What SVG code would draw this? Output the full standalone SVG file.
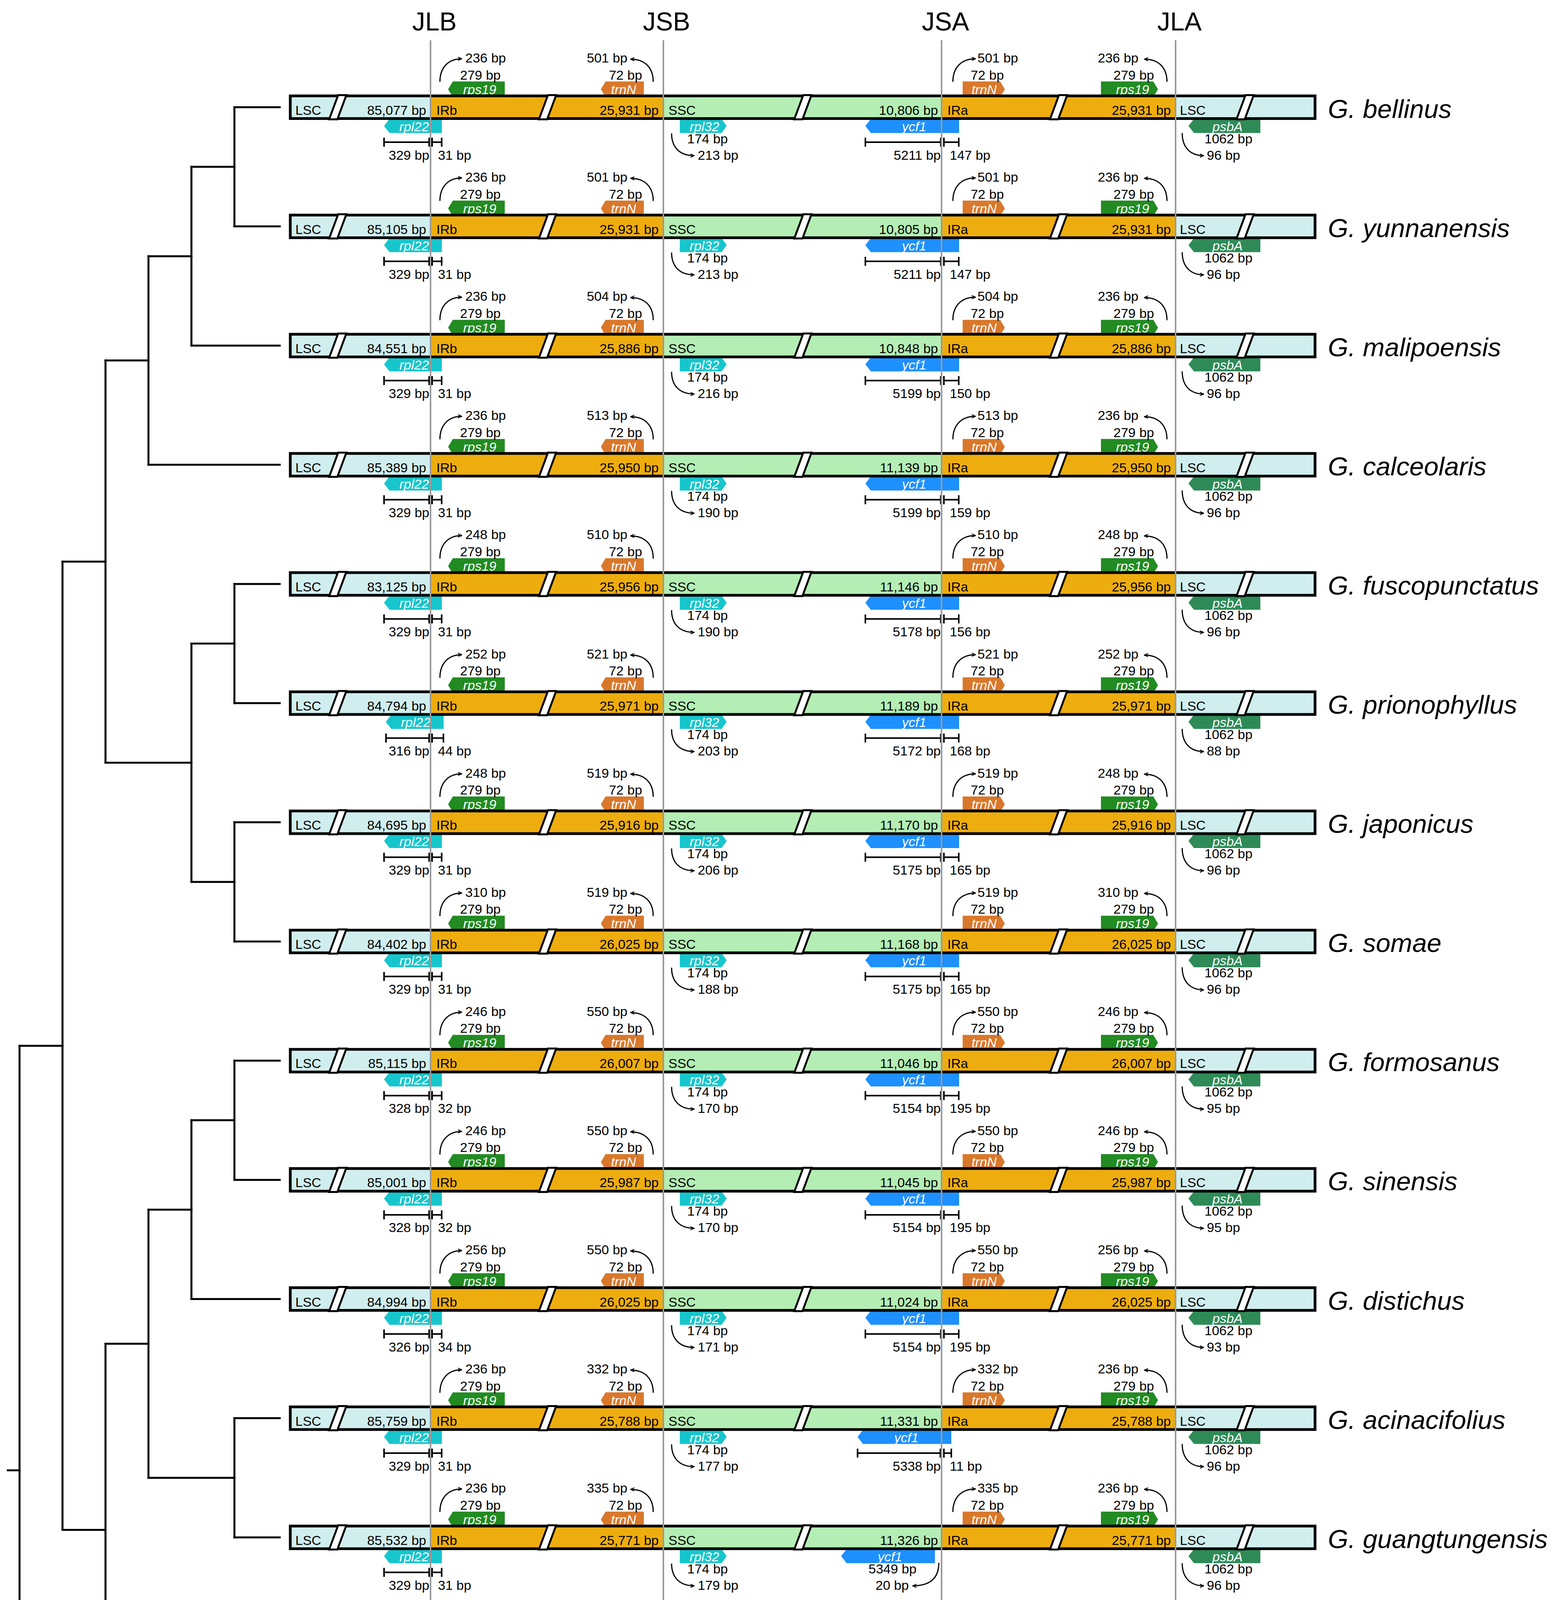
<svg xmlns="http://www.w3.org/2000/svg" xmlns:xlink="http://www.w3.org/1999/xlink" width="3993" height="5022" viewBox="0 0 3993 5022">
<style>
.t{font-family:"Liberation Sans",Arial,sans-serif;font-size:34px;fill:#000}
.e{text-anchor:end}
.m{text-anchor:middle}
.gl{font-family:"Liberation Sans",Arial,sans-serif;font-size:34px;font-style:italic;fill:#fff;text-anchor:middle}
.sp{font-family:"Liberation Sans",Arial,sans-serif;font-size:67px;font-style:italic;fill:#000}
.hd{font-family:"Liberation Sans",Arial,sans-serif;font-size:66px;fill:#000;text-anchor:middle}
.lsc{fill:#D1EEEE}.ir{fill:#EEAD0E}.ssc{fill:#B4EEB4}
.rps{fill:#228B22}.trn{fill:#D9782B}.rpl{fill:#17C6CC}.ycf{fill:#1E90FF}.psb{fill:#2E8B57}
.sl{fill:#fff;stroke:#000;stroke-width:5}
.sb{fill:none;stroke:#000;stroke-width:4}
.jl{stroke:#999;stroke-width:4}
.arr{fill:none;stroke:#000;stroke-width:3;marker-end:url(#ah)}
</style>
<defs>
<marker id="ah" viewBox="0 0 10 10" refX="9" refY="5" markerWidth="12" markerHeight="12" markerUnits="userSpaceOnUse" orient="auto"><path d="M1,1.5 L9,5 L1,8.5" fill="none" stroke="#000" stroke-width="1.8"/></marker>
<g id="gtop">
<polygon class="rps" points="1147,-46 1159,-66 1292,-66 1292,-26 1159,-26"/>
<polygon class="trn" points="1538,-46 1550,-66 1648,-66 1648,-26 1550,-26"/>
<polygon class="trn" points="2464,-66 2560,-66 2572,-46 2560,-26 2464,-26"/>
<polygon class="rps" points="2818,-66 2952,-66 2964,-46 2952,-26 2818,-26"/>
<polygon class="rpl" points="1740,30 1847,30 1860,48 1847,66 1740,66"/>
<polygon class="psb" points="3042,48 3056,30 3226,30 3226,66 3056,66"/>
</g>
<polygon id="rpl22g" class="rpl" points="983,48 997,30 1131,30 1131,66 997,66"/>
<polygon id="ycf1g" class="ycf" points="2215,48 2229,30 2455,30 2455,66 2229,66"/>
<g id="bar">
<rect x="743" y="-29" width="359" height="58" class="lsc"/>
<rect x="1102" y="-29" width="596" height="58" class="ir"/>
<rect x="1698" y="-29" width="712" height="58" class="ssc"/>
<rect x="2410" y="-29" width="599" height="58" class="ir"/>
<rect x="3009" y="-29" width="357" height="58" class="lsc"/>
<rect x="743" y="-29" width="2623" height="58" fill="none" stroke="#000" stroke-width="7"/>
<polygon class="sl" points="842.5,31 863.5,31 886.5,-31 865.5,-31"/>
<polygon class="sl" points="1379.5,31 1400.5,31 1423.5,-31 1402.5,-31"/>
<polygon class="sl" points="2033,31 2054,31 2077,-31 2056,-31"/>
<polygon class="sl" points="2687.5,31 2708.5,31 2731.5,-31 2710.5,-31"/>
<polygon class="sl" points="3165,31 3186,31 3209,-31 3188,-31"/>
</g>
<g id="arrs">
<path class="arr" d="M1126,-65 C1126,-100 1146,-124 1182,-124"/>
<path class="arr" d="M1672,-65 C1672,-100 1652,-123 1614,-123"/>
<path class="arr" d="M2439,-65 C2439,-100 2459,-124 2497,-124"/>
<path class="arr" d="M2987,-65 C2987,-100 2967,-123 2929,-123"/>
<path class="arr" d="M1719,67 C1719,100 1737,124 1777,124"/>
<path class="arr" d="M3026,66 C3026,100 3044,124 3081,124"/>
</g>
<path id="b22" class="sb" d="M983,89.5H1098.5M983,78V101M1098.5,78V101M1106,89.5H1130.5M1106,78V101M1130.5,78V101"/>
<path id="bycf" class="sb" d="M2215,89.5H2408M2215,78V101M2408,78V101M2416,89.5H2454M2416,78V101M2454,78V101"/>
</defs>
<rect width="3993" height="5022" fill="#fff"/>

<g id="connectors" fill="none" stroke="#000" stroke-width="5" stroke-linecap="square">
<path d="M600,274.5H716M600,579.6H716M490,884.7H716M380,1189.8H716M600,1494.9H716M600,1800H716M600,2105.1H716M600,2410.2H716M600,2715.3H716M600,3020.4H716M490,3325.5H716M600,3630.6H716M600,3935.7H716M600,4240.8H716M600,4545.9H716M50,4851H716"/>
<path d="M600,274.5V579.6M490,427.05V884.7M380,655.9V1189.8M600,1494.9V1800M600,2105.1V2410.2M490,1647.45V2257.65M270,922.85V1952.55M600,2715.3V3020.4M490,2867.85V3325.5M600,3630.6V3935.7M380,3096.7V3783.15M600,4240.8V4545.9M270,3439.9V4393.35M160,1437.7V3916.6M50,2677.2V4851"/>
<path d="M490,427.05H600M380,655.9H490M270,922.85H380M490,1647.45H600M490,2257.65H600M270,1952.55H490M160,1437.7H270M490,2867.85H600M380,3096.7H490M380,3783.15H600M270,3439.9H380M270,4393.35H600M160,3916.6H270M50,2677.2H160M20,3764.1H50"/>
</g>

<g id="row-G-bellinus" transform="translate(0,274.5)">
<use href="#gtop"/><use href="#rpl22g"/><use href="#ycf1g"/>
<text class="gl" x="1228" y="-34">rps19</text><text class="gl" x="1596" y="-34">trnN</text><text class="gl" x="2519" y="-34">trnN</text><text class="gl" x="2899" y="-34">rps19</text>
<text class="gl" x="1060" y="61">rpl22</text><text class="gl" x="1803" y="61">rpl32</text><text class="gl" x="2340" y="61">ycf1</text><text class="gl" x="3142" y="61">psbA</text>
<use href="#bar"/>
<text class="t" x="756" y="19">LSC</text><text class="t e" x="1091" y="19">85,077 bp</text><text class="t" x="1117" y="19">IRb</text><text class="t e" x="1686" y="19">25,931 bp</text><text class="t" x="1711" y="19">SSC</text><text class="t e" x="2401" y="19">10,806 bp</text><text class="t" x="2425" y="19">IRa</text><text class="t e" x="2997" y="19">25,931 bp</text><text class="t" x="3020" y="19">LSC</text>
<text class="sp" x="3399" y="27">G. bellinus</text>
<text class="t" x="1191" y="-114.5">236 bp</text><text class="t m" x="1229.5" y="-71">279 bp</text><text class="t e" x="1606" y="-114.5">501 bp</text><text class="t m" x="1601" y="-71">72 bp</text><text class="t" x="2502" y="-114.5">501 bp</text><text class="t m" x="2527" y="-71">72 bp</text><text class="t e" x="2914" y="-114.5">236 bp</text><text class="t m" x="2902" y="-71">279 bp</text>
<use href="#arrs"/><use href="#b22"/><use href="#bycf"/>
<text class="t e" x="1099" y="134">329 bp</text><text class="t" x="1121" y="134">31 bp</text><text class="t" x="1759" y="92">174 bp</text><text class="t" x="1786" y="134">213 bp</text><text class="t e" x="2408" y="134">5211 bp</text><text class="t" x="2431" y="134">147 bp</text><text class="t" x="3083" y="92">1062 bp</text><text class="t" x="3089" y="134">96 bp</text>
</g>

<g id="row-G-yunnanensis" transform="translate(0,579.6)">
<use href="#gtop"/><use href="#rpl22g"/><use href="#ycf1g"/>
<text class="gl" x="1228" y="-34">rps19</text><text class="gl" x="1596" y="-34">trnN</text><text class="gl" x="2519" y="-34">trnN</text><text class="gl" x="2899" y="-34">rps19</text>
<text class="gl" x="1060" y="61">rpl22</text><text class="gl" x="1803" y="61">rpl32</text><text class="gl" x="2340" y="61">ycf1</text><text class="gl" x="3142" y="61">psbA</text>
<use href="#bar"/>
<text class="t" x="756" y="19">LSC</text><text class="t e" x="1091" y="19">85,105 bp</text><text class="t" x="1117" y="19">IRb</text><text class="t e" x="1686" y="19">25,931 bp</text><text class="t" x="1711" y="19">SSC</text><text class="t e" x="2401" y="19">10,805 bp</text><text class="t" x="2425" y="19">IRa</text><text class="t e" x="2997" y="19">25,931 bp</text><text class="t" x="3020" y="19">LSC</text>
<text class="sp" x="3399" y="27">G. yunnanensis</text>
<text class="t" x="1191" y="-114.5">236 bp</text><text class="t m" x="1229.5" y="-71">279 bp</text><text class="t e" x="1606" y="-114.5">501 bp</text><text class="t m" x="1601" y="-71">72 bp</text><text class="t" x="2502" y="-114.5">501 bp</text><text class="t m" x="2527" y="-71">72 bp</text><text class="t e" x="2914" y="-114.5">236 bp</text><text class="t m" x="2902" y="-71">279 bp</text>
<use href="#arrs"/><use href="#b22"/><use href="#bycf"/>
<text class="t e" x="1099" y="134">329 bp</text><text class="t" x="1121" y="134">31 bp</text><text class="t" x="1759" y="92">174 bp</text><text class="t" x="1786" y="134">213 bp</text><text class="t e" x="2408" y="134">5211 bp</text><text class="t" x="2431" y="134">147 bp</text><text class="t" x="3083" y="92">1062 bp</text><text class="t" x="3089" y="134">96 bp</text>
</g>

<g id="row-G-malipoensis" transform="translate(0,884.7)">
<use href="#gtop"/><use href="#rpl22g"/><use href="#ycf1g"/>
<text class="gl" x="1228" y="-34">rps19</text><text class="gl" x="1596" y="-34">trnN</text><text class="gl" x="2519" y="-34">trnN</text><text class="gl" x="2899" y="-34">rps19</text>
<text class="gl" x="1060" y="61">rpl22</text><text class="gl" x="1803" y="61">rpl32</text><text class="gl" x="2340" y="61">ycf1</text><text class="gl" x="3142" y="61">psbA</text>
<use href="#bar"/>
<text class="t" x="756" y="19">LSC</text><text class="t e" x="1091" y="19">84,551 bp</text><text class="t" x="1117" y="19">IRb</text><text class="t e" x="1686" y="19">25,886 bp</text><text class="t" x="1711" y="19">SSC</text><text class="t e" x="2401" y="19">10,848 bp</text><text class="t" x="2425" y="19">IRa</text><text class="t e" x="2997" y="19">25,886 bp</text><text class="t" x="3020" y="19">LSC</text>
<text class="sp" x="3399" y="27">G. malipoensis</text>
<text class="t" x="1191" y="-114.5">236 bp</text><text class="t m" x="1229.5" y="-71">279 bp</text><text class="t e" x="1606" y="-114.5">504 bp</text><text class="t m" x="1601" y="-71">72 bp</text><text class="t" x="2502" y="-114.5">504 bp</text><text class="t m" x="2527" y="-71">72 bp</text><text class="t e" x="2914" y="-114.5">236 bp</text><text class="t m" x="2902" y="-71">279 bp</text>
<use href="#arrs"/><use href="#b22"/><use href="#bycf"/>
<text class="t e" x="1099" y="134">329 bp</text><text class="t" x="1121" y="134">31 bp</text><text class="t" x="1759" y="92">174 bp</text><text class="t" x="1786" y="134">216 bp</text><text class="t e" x="2408" y="134">5199 bp</text><text class="t" x="2431" y="134">150 bp</text><text class="t" x="3083" y="92">1062 bp</text><text class="t" x="3089" y="134">96 bp</text>
</g>

<g id="row-G-calceolaris" transform="translate(0,1189.8)">
<use href="#gtop"/><use href="#rpl22g"/><use href="#ycf1g"/>
<text class="gl" x="1228" y="-34">rps19</text><text class="gl" x="1596" y="-34">trnN</text><text class="gl" x="2519" y="-34">trnN</text><text class="gl" x="2899" y="-34">rps19</text>
<text class="gl" x="1060" y="61">rpl22</text><text class="gl" x="1803" y="61">rpl32</text><text class="gl" x="2340" y="61">ycf1</text><text class="gl" x="3142" y="61">psbA</text>
<use href="#bar"/>
<text class="t" x="756" y="19">LSC</text><text class="t e" x="1091" y="19">85,389 bp</text><text class="t" x="1117" y="19">IRb</text><text class="t e" x="1686" y="19">25,950 bp</text><text class="t" x="1711" y="19">SSC</text><text class="t e" x="2401" y="19">11,139 bp</text><text class="t" x="2425" y="19">IRa</text><text class="t e" x="2997" y="19">25,950 bp</text><text class="t" x="3020" y="19">LSC</text>
<text class="sp" x="3399" y="27">G. calceolaris</text>
<text class="t" x="1191" y="-114.5">236 bp</text><text class="t m" x="1229.5" y="-71">279 bp</text><text class="t e" x="1606" y="-114.5">513 bp</text><text class="t m" x="1601" y="-71">72 bp</text><text class="t" x="2502" y="-114.5">513 bp</text><text class="t m" x="2527" y="-71">72 bp</text><text class="t e" x="2914" y="-114.5">236 bp</text><text class="t m" x="2902" y="-71">279 bp</text>
<use href="#arrs"/><use href="#b22"/><use href="#bycf"/>
<text class="t e" x="1099" y="134">329 bp</text><text class="t" x="1121" y="134">31 bp</text><text class="t" x="1759" y="92">174 bp</text><text class="t" x="1786" y="134">190 bp</text><text class="t e" x="2408" y="134">5199 bp</text><text class="t" x="2431" y="134">159 bp</text><text class="t" x="3083" y="92">1062 bp</text><text class="t" x="3089" y="134">96 bp</text>
</g>

<g id="row-G-fuscopunctatus" transform="translate(0,1494.9)">
<use href="#gtop"/><use href="#rpl22g"/><use href="#ycf1g"/>
<text class="gl" x="1228" y="-34">rps19</text><text class="gl" x="1596" y="-34">trnN</text><text class="gl" x="2519" y="-34">trnN</text><text class="gl" x="2899" y="-34">rps19</text>
<text class="gl" x="1060" y="61">rpl22</text><text class="gl" x="1803" y="61">rpl32</text><text class="gl" x="2340" y="61">ycf1</text><text class="gl" x="3142" y="61">psbA</text>
<use href="#bar"/>
<text class="t" x="756" y="19">LSC</text><text class="t e" x="1091" y="19">83,125 bp</text><text class="t" x="1117" y="19">IRb</text><text class="t e" x="1686" y="19">25,956 bp</text><text class="t" x="1711" y="19">SSC</text><text class="t e" x="2401" y="19">11,146 bp</text><text class="t" x="2425" y="19">IRa</text><text class="t e" x="2997" y="19">25,956 bp</text><text class="t" x="3020" y="19">LSC</text>
<text class="sp" x="3399" y="27">G. fuscopunctatus</text>
<text class="t" x="1191" y="-114.5">248 bp</text><text class="t m" x="1229.5" y="-71">279 bp</text><text class="t e" x="1606" y="-114.5">510 bp</text><text class="t m" x="1601" y="-71">72 bp</text><text class="t" x="2502" y="-114.5">510 bp</text><text class="t m" x="2527" y="-71">72 bp</text><text class="t e" x="2914" y="-114.5">248 bp</text><text class="t m" x="2902" y="-71">279 bp</text>
<use href="#arrs"/><use href="#b22"/><use href="#bycf"/>
<text class="t e" x="1099" y="134">329 bp</text><text class="t" x="1121" y="134">31 bp</text><text class="t" x="1759" y="92">174 bp</text><text class="t" x="1786" y="134">190 bp</text><text class="t e" x="2408" y="134">5178 bp</text><text class="t" x="2431" y="134">156 bp</text><text class="t" x="3083" y="92">1062 bp</text><text class="t" x="3089" y="134">96 bp</text>
</g>

<g id="row-G-prionophyllus" transform="translate(0,1800)">
<use href="#gtop"/><use href="#rpl22g" x="4.5"/><use href="#ycf1g"/>
<text class="gl" x="1228" y="-34">rps19</text><text class="gl" x="1596" y="-34">trnN</text><text class="gl" x="2519" y="-34">trnN</text><text class="gl" x="2899" y="-34">rps19</text>
<text class="gl" x="1064" y="61">rpl22</text><text class="gl" x="1803" y="61">rpl32</text><text class="gl" x="2340" y="61">ycf1</text><text class="gl" x="3142" y="61">psbA</text>
<use href="#bar"/>
<text class="t" x="756" y="19">LSC</text><text class="t e" x="1091" y="19">84,794 bp</text><text class="t" x="1117" y="19">IRb</text><text class="t e" x="1686" y="19">25,971 bp</text><text class="t" x="1711" y="19">SSC</text><text class="t e" x="2401" y="19">11,189 bp</text><text class="t" x="2425" y="19">IRa</text><text class="t e" x="2997" y="19">25,971 bp</text><text class="t" x="3020" y="19">LSC</text>
<text class="sp" x="3399" y="27">G. prionophyllus</text>
<text class="t" x="1191" y="-114.5">252 bp</text><text class="t m" x="1229.5" y="-71">279 bp</text><text class="t e" x="1606" y="-114.5">521 bp</text><text class="t m" x="1601" y="-71">72 bp</text><text class="t" x="2502" y="-114.5">521 bp</text><text class="t m" x="2527" y="-71">72 bp</text><text class="t e" x="2914" y="-114.5">252 bp</text><text class="t m" x="2902" y="-71">279 bp</text>
<use href="#arrs"/><use href="#bycf"/>
<path class="sb" d="M988,89.5H1098.5M988,78V101M1098.5,78V101M1106,89.5H1135M1106,78V101M1135,78V101"/>
<text class="t e" x="1099" y="134">316 bp</text><text class="t" x="1121" y="134">44 bp</text><text class="t" x="1759" y="92">174 bp</text><text class="t" x="1786" y="134">203 bp</text><text class="t e" x="2408" y="134">5172 bp</text><text class="t" x="2431" y="134">168 bp</text><text class="t" x="3083" y="92">1062 bp</text><text class="t" x="3089" y="134">88 bp</text>
</g>

<g id="row-G-japonicus" transform="translate(0,2105.1)">
<use href="#gtop"/><use href="#rpl22g"/><use href="#ycf1g"/>
<text class="gl" x="1228" y="-34">rps19</text><text class="gl" x="1596" y="-34">trnN</text><text class="gl" x="2519" y="-34">trnN</text><text class="gl" x="2899" y="-34">rps19</text>
<text class="gl" x="1060" y="61">rpl22</text><text class="gl" x="1803" y="61">rpl32</text><text class="gl" x="2340" y="61">ycf1</text><text class="gl" x="3142" y="61">psbA</text>
<use href="#bar"/>
<text class="t" x="756" y="19">LSC</text><text class="t e" x="1091" y="19">84,695 bp</text><text class="t" x="1117" y="19">IRb</text><text class="t e" x="1686" y="19">25,916 bp</text><text class="t" x="1711" y="19">SSC</text><text class="t e" x="2401" y="19">11,170 bp</text><text class="t" x="2425" y="19">IRa</text><text class="t e" x="2997" y="19">25,916 bp</text><text class="t" x="3020" y="19">LSC</text>
<text class="sp" x="3399" y="27">G. japonicus</text>
<text class="t" x="1191" y="-114.5">248 bp</text><text class="t m" x="1229.5" y="-71">279 bp</text><text class="t e" x="1606" y="-114.5">519 bp</text><text class="t m" x="1601" y="-71">72 bp</text><text class="t" x="2502" y="-114.5">519 bp</text><text class="t m" x="2527" y="-71">72 bp</text><text class="t e" x="2914" y="-114.5">248 bp</text><text class="t m" x="2902" y="-71">279 bp</text>
<use href="#arrs"/><use href="#b22"/><use href="#bycf"/>
<text class="t e" x="1099" y="134">329 bp</text><text class="t" x="1121" y="134">31 bp</text><text class="t" x="1759" y="92">174 bp</text><text class="t" x="1786" y="134">206 bp</text><text class="t e" x="2408" y="134">5175 bp</text><text class="t" x="2431" y="134">165 bp</text><text class="t" x="3083" y="92">1062 bp</text><text class="t" x="3089" y="134">96 bp</text>
</g>

<g id="row-G-somae" transform="translate(0,2410.2)">
<use href="#gtop"/><use href="#rpl22g"/><use href="#ycf1g"/>
<text class="gl" x="1228" y="-34">rps19</text><text class="gl" x="1596" y="-34">trnN</text><text class="gl" x="2519" y="-34">trnN</text><text class="gl" x="2899" y="-34">rps19</text>
<text class="gl" x="1060" y="61">rpl22</text><text class="gl" x="1803" y="61">rpl32</text><text class="gl" x="2340" y="61">ycf1</text><text class="gl" x="3142" y="61">psbA</text>
<use href="#bar"/>
<text class="t" x="756" y="19">LSC</text><text class="t e" x="1091" y="19">84,402 bp</text><text class="t" x="1117" y="19">IRb</text><text class="t e" x="1686" y="19">26,025 bp</text><text class="t" x="1711" y="19">SSC</text><text class="t e" x="2401" y="19">11,168 bp</text><text class="t" x="2425" y="19">IRa</text><text class="t e" x="2997" y="19">26,025 bp</text><text class="t" x="3020" y="19">LSC</text>
<text class="sp" x="3399" y="27">G. somae</text>
<text class="t" x="1191" y="-114.5">310 bp</text><text class="t m" x="1229.5" y="-71">279 bp</text><text class="t e" x="1606" y="-114.5">519 bp</text><text class="t m" x="1601" y="-71">72 bp</text><text class="t" x="2502" y="-114.5">519 bp</text><text class="t m" x="2527" y="-71">72 bp</text><text class="t e" x="2914" y="-114.5">310 bp</text><text class="t m" x="2902" y="-71">279 bp</text>
<use href="#arrs"/><use href="#b22"/><use href="#bycf"/>
<text class="t e" x="1099" y="134">329 bp</text><text class="t" x="1121" y="134">31 bp</text><text class="t" x="1759" y="92">174 bp</text><text class="t" x="1786" y="134">188 bp</text><text class="t e" x="2408" y="134">5175 bp</text><text class="t" x="2431" y="134">165 bp</text><text class="t" x="3083" y="92">1062 bp</text><text class="t" x="3089" y="134">96 bp</text>
</g>

<g id="row-G-formosanus" transform="translate(0,2715.3)">
<use href="#gtop"/><use href="#rpl22g"/><use href="#ycf1g"/>
<text class="gl" x="1228" y="-34">rps19</text><text class="gl" x="1596" y="-34">trnN</text><text class="gl" x="2519" y="-34">trnN</text><text class="gl" x="2899" y="-34">rps19</text>
<text class="gl" x="1060" y="61">rpl22</text><text class="gl" x="1803" y="61">rpl32</text><text class="gl" x="2340" y="61">ycf1</text><text class="gl" x="3142" y="61">psbA</text>
<use href="#bar"/>
<text class="t" x="756" y="19">LSC</text><text class="t e" x="1091" y="19">85,115 bp</text><text class="t" x="1117" y="19">IRb</text><text class="t e" x="1686" y="19">26,007 bp</text><text class="t" x="1711" y="19">SSC</text><text class="t e" x="2401" y="19">11,046 bp</text><text class="t" x="2425" y="19">IRa</text><text class="t e" x="2997" y="19">26,007 bp</text><text class="t" x="3020" y="19">LSC</text>
<text class="sp" x="3399" y="27">G. formosanus</text>
<text class="t" x="1191" y="-114.5">246 bp</text><text class="t m" x="1229.5" y="-71">279 bp</text><text class="t e" x="1606" y="-114.5">550 bp</text><text class="t m" x="1601" y="-71">72 bp</text><text class="t" x="2502" y="-114.5">550 bp</text><text class="t m" x="2527" y="-71">72 bp</text><text class="t e" x="2914" y="-114.5">246 bp</text><text class="t m" x="2902" y="-71">279 bp</text>
<use href="#arrs"/><use href="#b22"/><use href="#bycf"/>
<text class="t e" x="1099" y="134">328 bp</text><text class="t" x="1121" y="134">32 bp</text><text class="t" x="1759" y="92">174 bp</text><text class="t" x="1786" y="134">170 bp</text><text class="t e" x="2408" y="134">5154 bp</text><text class="t" x="2431" y="134">195 bp</text><text class="t" x="3083" y="92">1062 bp</text><text class="t" x="3089" y="134">95 bp</text>
</g>

<g id="row-G-sinensis" transform="translate(0,3020.4)">
<use href="#gtop"/><use href="#rpl22g"/><use href="#ycf1g"/>
<text class="gl" x="1228" y="-34">rps19</text><text class="gl" x="1596" y="-34">trnN</text><text class="gl" x="2519" y="-34">trnN</text><text class="gl" x="2899" y="-34">rps19</text>
<text class="gl" x="1060" y="61">rpl22</text><text class="gl" x="1803" y="61">rpl32</text><text class="gl" x="2340" y="61">ycf1</text><text class="gl" x="3142" y="61">psbA</text>
<use href="#bar"/>
<text class="t" x="756" y="19">LSC</text><text class="t e" x="1091" y="19">85,001 bp</text><text class="t" x="1117" y="19">IRb</text><text class="t e" x="1686" y="19">25,987 bp</text><text class="t" x="1711" y="19">SSC</text><text class="t e" x="2401" y="19">11,045 bp</text><text class="t" x="2425" y="19">IRa</text><text class="t e" x="2997" y="19">25,987 bp</text><text class="t" x="3020" y="19">LSC</text>
<text class="sp" x="3399" y="27">G. sinensis</text>
<text class="t" x="1191" y="-114.5">246 bp</text><text class="t m" x="1229.5" y="-71">279 bp</text><text class="t e" x="1606" y="-114.5">550 bp</text><text class="t m" x="1601" y="-71">72 bp</text><text class="t" x="2502" y="-114.5">550 bp</text><text class="t m" x="2527" y="-71">72 bp</text><text class="t e" x="2914" y="-114.5">246 bp</text><text class="t m" x="2902" y="-71">279 bp</text>
<use href="#arrs"/><use href="#b22"/><use href="#bycf"/>
<text class="t e" x="1099" y="134">328 bp</text><text class="t" x="1121" y="134">32 bp</text><text class="t" x="1759" y="92">174 bp</text><text class="t" x="1786" y="134">170 bp</text><text class="t e" x="2408" y="134">5154 bp</text><text class="t" x="2431" y="134">195 bp</text><text class="t" x="3083" y="92">1062 bp</text><text class="t" x="3089" y="134">95 bp</text>
</g>

<g id="row-G-distichus" transform="translate(0,3325.5)">
<use href="#gtop"/><use href="#rpl22g"/><use href="#ycf1g"/>
<text class="gl" x="1228" y="-34">rps19</text><text class="gl" x="1596" y="-34">trnN</text><text class="gl" x="2519" y="-34">trnN</text><text class="gl" x="2899" y="-34">rps19</text>
<text class="gl" x="1060" y="61">rpl22</text><text class="gl" x="1803" y="61">rpl32</text><text class="gl" x="2340" y="61">ycf1</text><text class="gl" x="3142" y="61">psbA</text>
<use href="#bar"/>
<text class="t" x="756" y="19">LSC</text><text class="t e" x="1091" y="19">84,994 bp</text><text class="t" x="1117" y="19">IRb</text><text class="t e" x="1686" y="19">26,025 bp</text><text class="t" x="1711" y="19">SSC</text><text class="t e" x="2401" y="19">11,024 bp</text><text class="t" x="2425" y="19">IRa</text><text class="t e" x="2997" y="19">26,025 bp</text><text class="t" x="3020" y="19">LSC</text>
<text class="sp" x="3399" y="27">G. distichus</text>
<text class="t" x="1191" y="-114.5">256 bp</text><text class="t m" x="1229.5" y="-71">279 bp</text><text class="t e" x="1606" y="-114.5">550 bp</text><text class="t m" x="1601" y="-71">72 bp</text><text class="t" x="2502" y="-114.5">550 bp</text><text class="t m" x="2527" y="-71">72 bp</text><text class="t e" x="2914" y="-114.5">256 bp</text><text class="t m" x="2902" y="-71">279 bp</text>
<use href="#arrs"/><use href="#b22"/><use href="#bycf"/>
<text class="t e" x="1099" y="134">326 bp</text><text class="t" x="1121" y="134">34 bp</text><text class="t" x="1759" y="92">174 bp</text><text class="t" x="1786" y="134">171 bp</text><text class="t e" x="2408" y="134">5154 bp</text><text class="t" x="2431" y="134">195 bp</text><text class="t" x="3083" y="92">1062 bp</text><text class="t" x="3089" y="134">93 bp</text>
</g>

<g id="row-G-acinacifolius" transform="translate(0,3630.6)">
<use href="#gtop"/><use href="#rpl22g"/><use href="#ycf1g" x="-20"/>
<text class="gl" x="1228" y="-34">rps19</text><text class="gl" x="1596" y="-34">trnN</text><text class="gl" x="2519" y="-34">trnN</text><text class="gl" x="2899" y="-34">rps19</text>
<text class="gl" x="1060" y="61">rpl22</text><text class="gl" x="1803" y="61">rpl32</text><text class="gl" x="2320" y="61">ycf1</text><text class="gl" x="3142" y="61">psbA</text>
<use href="#bar"/>
<text class="t" x="756" y="19">LSC</text><text class="t e" x="1091" y="19">85,759 bp</text><text class="t" x="1117" y="19">IRb</text><text class="t e" x="1686" y="19">25,788 bp</text><text class="t" x="1711" y="19">SSC</text><text class="t e" x="2401" y="19">11,331 bp</text><text class="t" x="2425" y="19">IRa</text><text class="t e" x="2997" y="19">25,788 bp</text><text class="t" x="3020" y="19">LSC</text>
<text class="sp" x="3399" y="27">G. acinacifolius</text>
<text class="t" x="1191" y="-114.5">236 bp</text><text class="t m" x="1229.5" y="-71">279 bp</text><text class="t e" x="1606" y="-114.5">332 bp</text><text class="t m" x="1601" y="-71">72 bp</text><text class="t" x="2502" y="-114.5">332 bp</text><text class="t m" x="2527" y="-71">72 bp</text><text class="t e" x="2914" y="-114.5">236 bp</text><text class="t m" x="2902" y="-71">279 bp</text>
<use href="#arrs"/><use href="#b22"/>
<path class="sb" d="M2195,89.5H2407M2195,78V101M2407,78V101M2416,89.5H2435M2416,78V101M2435,78V101"/>
<text class="t e" x="1099" y="134">329 bp</text><text class="t" x="1121" y="134">31 bp</text><text class="t" x="1759" y="92">174 bp</text><text class="t" x="1786" y="134">177 bp</text><text class="t e" x="2408" y="134">5338 bp</text><text class="t" x="2431" y="134">11 bp</text><text class="t" x="3083" y="92">1062 bp</text><text class="t" x="3089" y="134">96 bp</text>
</g>

<g id="row-G-guangtungensis" transform="translate(0,3935.7)">
<use href="#gtop"/><use href="#rpl22g"/><use href="#ycf1g" x="-62"/>
<text class="gl" x="1228" y="-34">rps19</text><text class="gl" x="1596" y="-34">trnN</text><text class="gl" x="2519" y="-34">trnN</text><text class="gl" x="2899" y="-34">rps19</text>
<text class="gl" x="1060" y="61">rpl22</text><text class="gl" x="1803" y="61">rpl32</text><text class="gl" x="2278" y="61">ycf1</text><text class="gl" x="3142" y="61">psbA</text>
<use href="#bar"/>
<text class="t" x="756" y="19">LSC</text><text class="t e" x="1091" y="19">85,532 bp</text><text class="t" x="1117" y="19">IRb</text><text class="t e" x="1686" y="19">25,771 bp</text><text class="t" x="1711" y="19">SSC</text><text class="t e" x="2401" y="19">11,326 bp</text><text class="t" x="2425" y="19">IRa</text><text class="t e" x="2997" y="19">25,771 bp</text><text class="t" x="3020" y="19">LSC</text>
<text class="sp" x="3399" y="27">G. guangtungensis</text>
<text class="t" x="1191" y="-114.5">236 bp</text><text class="t m" x="1229.5" y="-71">279 bp</text><text class="t e" x="1606" y="-114.5">335 bp</text><text class="t m" x="1601" y="-71">72 bp</text><text class="t" x="2502" y="-114.5">335 bp</text><text class="t m" x="2527" y="-71">72 bp</text><text class="t e" x="2914" y="-114.5">236 bp</text><text class="t m" x="2902" y="-71">279 bp</text>
<use href="#arrs"/><use href="#b22"/>
<path class="arr" d="M2403,65 C2403,100 2385,124 2336,124"/>
<text class="t e" x="1099" y="134">329 bp</text><text class="t" x="1121" y="134">31 bp</text><text class="t" x="1759" y="92">174 bp</text><text class="t" x="1786" y="134">179 bp</text><text class="t" x="2223" y="92">5349 bp</text><text class="t" x="2241" y="134">20 bp</text><text class="t" x="3083" y="92">1062 bp</text><text class="t" x="3089" y="134">96 bp</text>
</g>

<g id="row-G-obliquus" transform="translate(0,4240.8)">
<use href="#gtop"/><use href="#rpl22g"/><use href="#ycf1g"/>
<text class="gl" x="1228" y="-34">rps19</text><text class="gl" x="1596" y="-34">trnN</text><text class="gl" x="2519" y="-34">trnN</text><text class="gl" x="2899" y="-34">rps19</text>
<text class="gl" x="1060" y="61">rpl22</text><text class="gl" x="1803" y="61">rpl32</text><text class="gl" x="2340" y="61">ycf1</text><text class="gl" x="3142" y="61">psbA</text>
<use href="#bar"/>
<text class="t" x="756" y="19">LSC</text><text class="t e" x="1091" y="19">85,267 bp</text><text class="t" x="1117" y="19">IRb</text><text class="t e" x="1686" y="19">25,725 bp</text><text class="t" x="1711" y="19">SSC</text><text class="t e" x="2401" y="19">11,118 bp</text><text class="t" x="2425" y="19">IRa</text><text class="t e" x="2997" y="19">25,725 bp</text><text class="t" x="3020" y="19">LSC</text>
<text class="sp" x="3399" y="27">G. obliquus</text>
<text class="t" x="1191" y="-114.5">236 bp</text><text class="t m" x="1229.5" y="-71">279 bp</text><text class="t e" x="1606" y="-114.5">519 bp</text><text class="t m" x="1601" y="-71">72 bp</text><text class="t" x="2502" y="-114.5">519 bp</text><text class="t m" x="2527" y="-71">72 bp</text><text class="t e" x="2914" y="-114.5">236 bp</text><text class="t m" x="2902" y="-71">279 bp</text>
<use href="#arrs"/><use href="#b22"/><use href="#bycf"/>
<text class="t e" x="1099" y="134">329 bp</text><text class="t" x="1121" y="134">31 bp</text><text class="t" x="1759" y="92">174 bp</text><text class="t" x="1786" y="134">172 bp</text><text class="t e" x="2408" y="134">5193 bp</text><text class="t" x="2431" y="134">165 bp</text><text class="t" x="3083" y="92">1062 bp</text><text class="t" x="3089" y="134">104 bp</text>
</g>

<g id="row-G-gongshanensis" transform="translate(0,4545.9)">
<use href="#gtop"/><use href="#rpl22g"/><use href="#ycf1g"/>
<text class="gl" x="1228" y="-34">rps19</text><text class="gl" x="1596" y="-34">trnN</text><text class="gl" x="2519" y="-34">trnN</text><text class="gl" x="2899" y="-34">rps19</text>
<text class="gl" x="1060" y="61">rpl22</text><text class="gl" x="1803" y="61">rpl32</text><text class="gl" x="2340" y="61">ycf1</text><text class="gl" x="3142" y="61">psbA</text>
<use href="#bar"/>
<text class="t" x="756" y="19">LSC</text><text class="t e" x="1091" y="19">85,264 bp</text><text class="t" x="1117" y="19">IRb</text><text class="t e" x="1686" y="19">25,725 bp</text><text class="t" x="1711" y="19">SSC</text><text class="t e" x="2401" y="19">11,155 bp</text><text class="t" x="2425" y="19">IRa</text><text class="t e" x="2997" y="19">25,725 bp</text><text class="t" x="3020" y="19">LSC</text>
<text class="sp" x="3399" y="27">G. gongshanensis</text>
<text class="t" x="1191" y="-114.5">236 bp</text><text class="t m" x="1229.5" y="-71">279 bp</text><text class="t e" x="1606" y="-114.5">519 bp</text><text class="t m" x="1601" y="-71">72 bp</text><text class="t" x="2502" y="-114.5">519 bp</text><text class="t m" x="2527" y="-71">72 bp</text><text class="t e" x="2914" y="-114.5">236 bp</text><text class="t m" x="2902" y="-71">279 bp</text>
<use href="#arrs"/><use href="#b22"/><use href="#bycf"/>
<text class="t e" x="1099" y="134">329 bp</text><text class="t" x="1121" y="134">31 bp</text><text class="t" x="1759" y="92">174 bp</text><text class="t" x="1786" y="134">196 bp</text><text class="t e" x="2408" y="134">5193 bp</text><text class="t" x="2431" y="134">165 bp</text><text class="t" x="3083" y="92">1062 bp</text><text class="t" x="3089" y="134">96 bp</text>
</g>

<g id="row-G-retrocallus" transform="translate(0,4851)">
<use href="#gtop"/><use href="#rpl22g"/><use href="#ycf1g"/>
<text class="gl" x="1228" y="-34">rps19</text><text class="gl" x="1596" y="-34">trnN</text><text class="gl" x="2519" y="-34">trnN</text><text class="gl" x="2899" y="-34">rps19</text>
<text class="gl" x="1060" y="61">rpl22</text><text class="gl" x="1803" y="61">rpl32</text><text class="gl" x="2340" y="61">ycf1</text><text class="gl" x="3142" y="61">psbA</text>
<use href="#bar"/>
<text class="t" x="756" y="19">LSC</text><text class="t e" x="1091" y="19">84,043 bp</text><text class="t" x="1117" y="19">IRb</text><text class="t e" x="1686" y="19">25,766 bp</text><text class="t" x="1711" y="19">SSC</text><text class="t e" x="2401" y="19">11,043 bp</text><text class="t" x="2425" y="19">IRa</text><text class="t e" x="2997" y="19">25,766 bp</text><text class="t" x="3020" y="19">LSC</text>
<text class="sp" x="3399" y="27">G. retrocallus</text>
<text class="t" x="1191" y="-114.5">226 bp</text><text class="t m" x="1229.5" y="-71">279 bp</text><text class="t e" x="1606" y="-114.5">522 bp</text><text class="t m" x="1601" y="-71">72 bp</text><text class="t" x="2502" y="-114.5">522 bp</text><text class="t m" x="2527" y="-71">72 bp</text><text class="t e" x="2914" y="-114.5">226 bp</text><text class="t m" x="2902" y="-71">279 bp</text>
<use href="#arrs"/><use href="#b22"/><use href="#bycf"/>
<text class="t e" x="1099" y="134">328 bp</text><text class="t" x="1121" y="134">32 bp</text><text class="t" x="1759" y="92">174 bp</text><text class="t" x="1786" y="134">185 bp</text><text class="t e" x="2408" y="134">5205 bp</text><text class="t" x="2431" y="134">168 bp</text><text class="t" x="3083" y="92">1062 bp</text><text class="t" x="3089" y="134">95 bp</text>
</g>

<g id="junctions">
<line class="jl" x1="1102" y1="103" x2="1102" y2="5015"/>
<line class="jl" x1="1698" y1="103" x2="1698" y2="5015"/>
<line class="jl" x1="2410" y1="103" x2="2410" y2="5015"/>
<line class="jl" x1="3009" y1="103" x2="3009" y2="5015"/>
<text class="hd" x="1112" y="78">JLB</text>
<text class="hd" x="1706" y="78">JSB</text>
<text class="hd" x="2420" y="78">JSA</text>
<text class="hd" x="3019" y="78">JLA</text>
</g>
</svg>
